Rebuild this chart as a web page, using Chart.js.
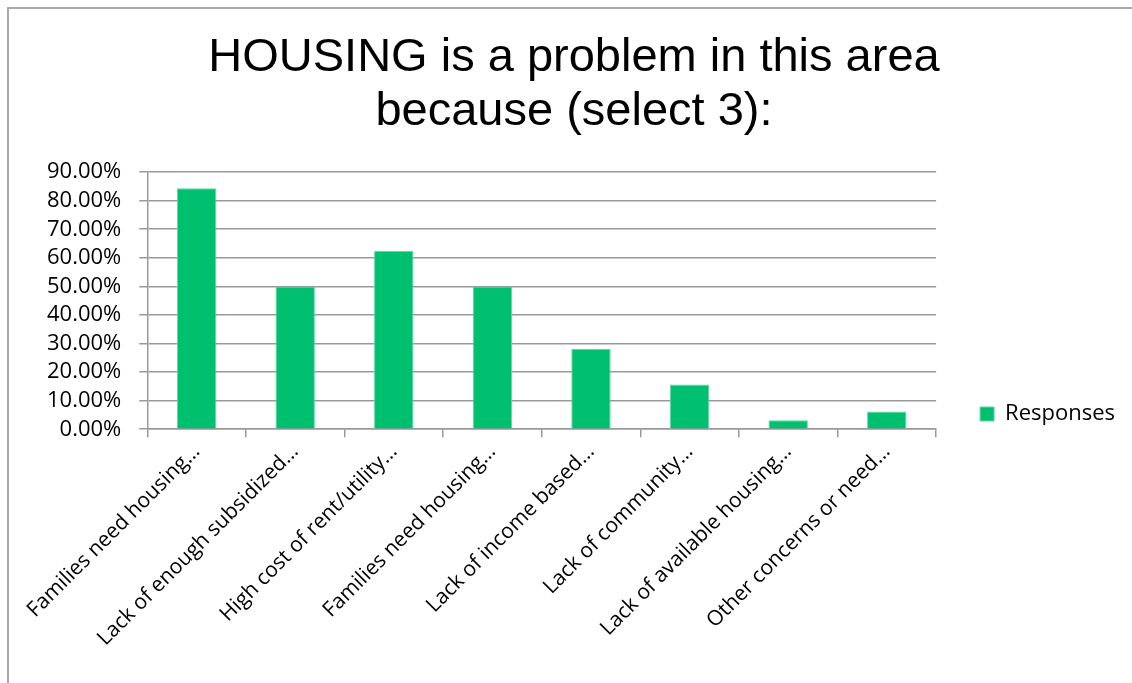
<!DOCTYPE html>
<html>
<head>
<meta charset="utf-8">
<script src="https://cdn.jsdelivr.net/npm/chart.js@4.4.0/dist/chart.umd.min.js"></script>
<style>
  html, body { margin: 0; padding: 0; background: #fff; }
  #wrap { position: relative; width: 1132px; height: 683px; }
  #frame {
    position: absolute; left: 7px; top: 7px; right: 0; bottom: 0;
    border-top: 2px solid #aaa; border-left: 2px solid #aaa;
  }
  canvas { position: absolute; left: 0; top: 0; }
</style>
</head>
<body>
<div id="wrap">
  <div id="frame"></div>
  <canvas id="chart" width="1132" height="683"></canvas>
</div>
<script>
// Survey categories (labels shortened as in the source chart)
const categories = [
  "Families need housing…",
  "Lack of enough subsidized…",
  "High cost of rent/utility…",
  "Families need housing…",
  "Lack of income based…",
  "Lack of community…",
  "Lack of available housing…",
  "Other concerns or need…",
];
// Share of responses, in percent
const responses = [84.38, 50.0, 62.5, 50.0, 28.13, 15.63, 3.13, 6.25];
const seriesName = "Responses";
const titleLines = ["HOUSING is a problem in this area", "because (select 3):"];

const labelFont = "'Open Sans', sans-serif";

// nudge the legend so it sits to the right of the plot, low down like the original
const legendOffset = {
  id: "legendOffset",
  afterLayout(chart) {
    const lg = chart.legend;
    const dx = 6;
    const mid = 414;
    const h = lg.bottom - lg.top;
    lg.left += dx;
    lg.right += dx;
    lg.top = mid - h / 2;
    lg.bottom = mid + h / 2;
  },
};

const ctx = document.getElementById("chart").getContext("2d");
new Chart(ctx, {
  type: "bar",
  data: {
    labels: categories,
    datasets: [
      {
        label: seriesName,
        data: responses,
        backgroundColor: "#00bf6f",
        borderColor: "#5fd9a4",
        borderWidth: 1,
        categoryPercentage: 1.0,
        barPercentage: 0.4,
      },
    ],
  },
  plugins: [legendOffset],
  options: {
    responsive: false,
    animation: false,
    layout: { padding: { left: 29, right: 13, top: 0, bottom: 30 } },
    plugins: {
      title: {
        display: true,
        text: titleLines,
        color: "#000",
        font: { family: "'Liberation Sans', Arial, sans-serif", size: 47, weight: "normal", lineHeight: 1.15 },
        padding: { top: 31, bottom: 33 },
      },
      legend: {
        position: "right",
        labels: {
          color: "#000",
          boxWidth: 14,
          boxHeight: 14,
          padding: 38,
          font: { family: labelFont, size: 22 },
        },
      },
      tooltip: { enabled: false },
    },
    scales: {
      x: {
        grid: { display: true, drawOnChartArea: false, color: "#999", lineWidth: 1.5, tickLength: 8, offset: true },
        border: { color: "#999", width: 1.5 },
        ticks: {
          color: "#000",
          font: { family: labelFont, size: 21 },
          maxRotation: 45,
          minRotation: 45,
          autoSkip: false,
          padding: 2,
        },
      },
      y: {
        min: 0,
        max: 90,
        grid: { color: "#999", lineWidth: 1.5, tickLength: 8 },
        border: { color: "#999", width: 1.5 },
        ticks: {
          stepSize: 10,
          autoSkip: false,
          color: "#000",
          font: { family: labelFont, size: 22, lineHeight: 1 },
          padding: 18,
          callback: (v) => v.toFixed(2) + "%",
        },
      },
    },
  },
});
</script>
</body>
</html>
